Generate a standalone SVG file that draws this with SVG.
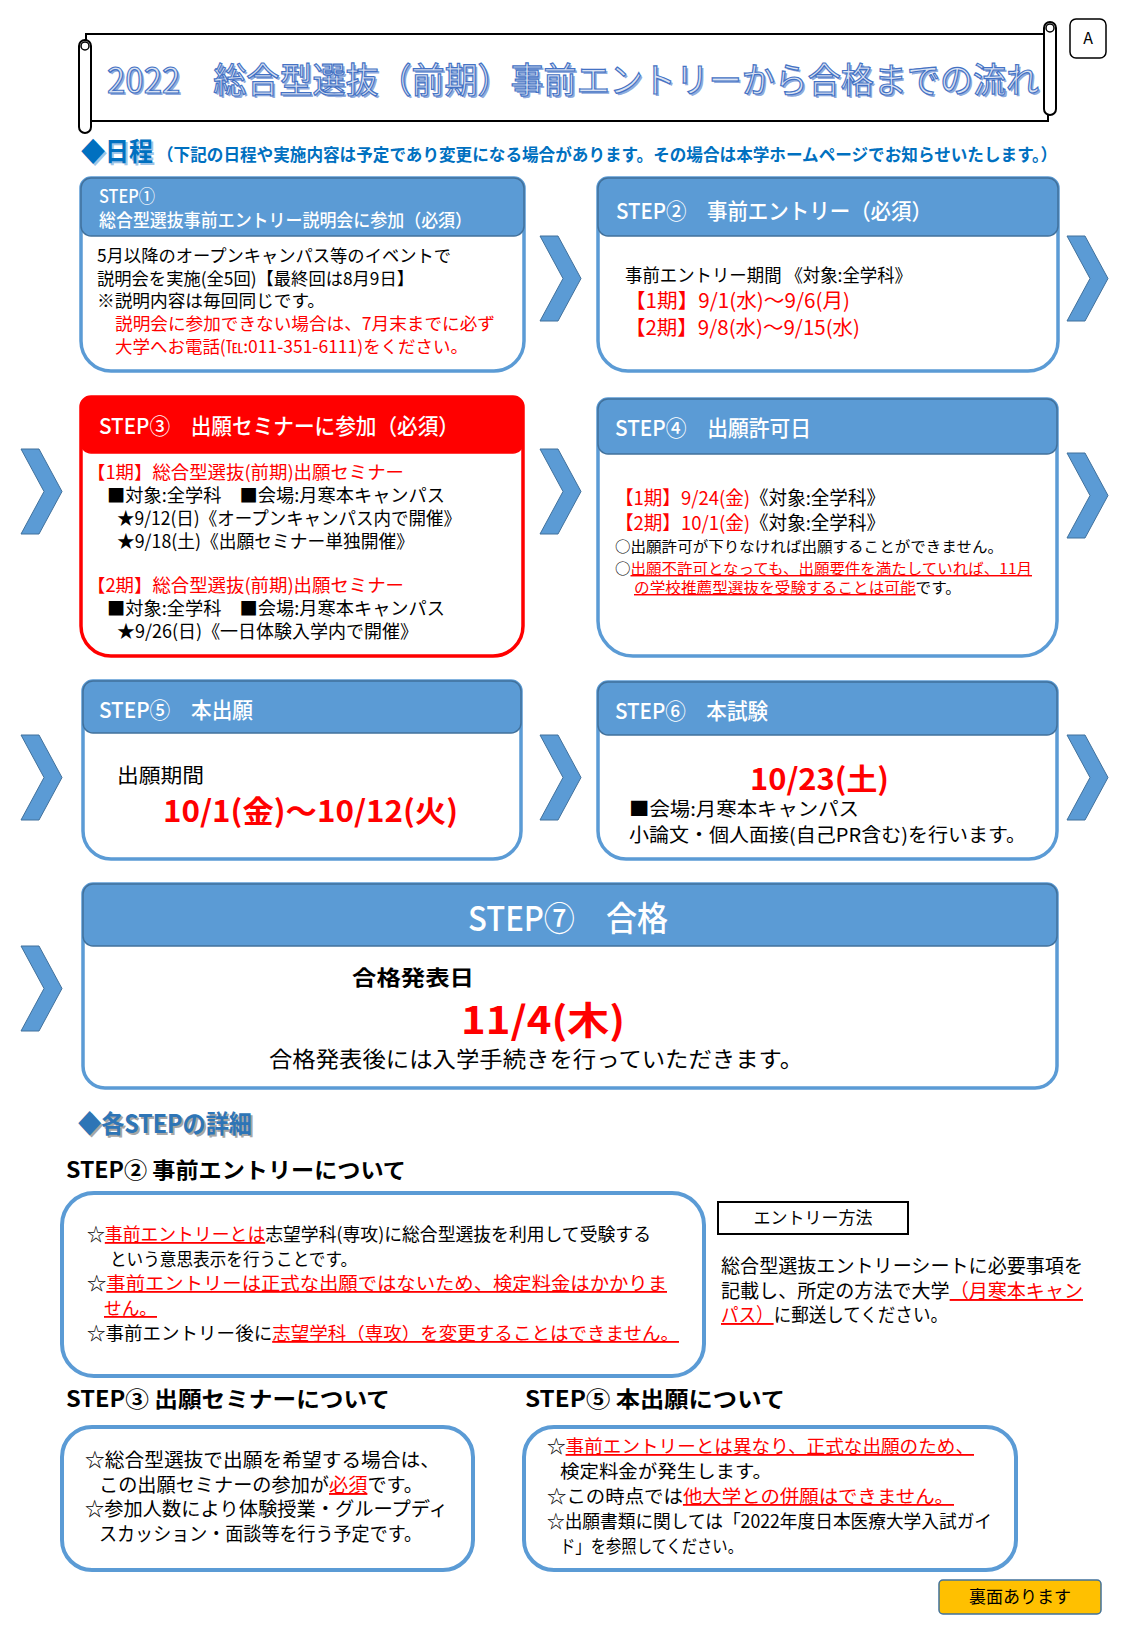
<svg xmlns="http://www.w3.org/2000/svg" width="1125" height="1625" viewBox="0 0 1125 1625">
<defs>
<style>
text{font-family:"Noto Sans CJK JP","Noto Sans",sans-serif;}
.hd{fill:#fff;font-weight:500;}
.bk{fill:#000;}
.rd{fill:#FF0000;}
.ul{text-decoration:underline;}
.body{fill:#fff;stroke:#5B9BD5;stroke-width:3.5;}
.bodyR{fill:#fff;stroke:#FF0000;stroke-width:3.5;}
.head{fill:#5B9BD5;stroke:#41719C;stroke-width:1.5;}
.headR{fill:#FF0000;stroke:#FF0000;stroke-width:1.5;}
.chev{fill:#5B9BD5;stroke:#41719C;stroke-width:1;}
.dbox{fill:#fff;stroke:#5B9BD5;stroke-width:4;}
</style>
<path id="chev" d="M0,0 L18,0 L41,42.5 L18,85 L0,85 L23,42.5 Z"/>
</defs>
<rect width="1125" height="1625" fill="#fff"/>

<g id="title">
<rect x="86" y="34" width="962" height="87" fill="#fff" stroke="#000" stroke-width="2"/>
<rect x="79" y="40" width="12" height="93" rx="6" fill="#fff" stroke="#000" stroke-width="2"/>
<circle cx="85" cy="46" r="4" fill="#fff" stroke="#000" stroke-width="1.5"/>
<rect x="1044" y="22" width="12" height="93" rx="6" fill="#fff" stroke="#000" stroke-width="2"/>
<circle cx="1050" cy="28" r="4" fill="#fff" stroke="#000" stroke-width="1.5"/>
<text x="109" y="95" font-size="35" fill="#8FAADC" textLength="932" lengthAdjust="spacingAndGlyphs">2022　総合型選抜（前期）事前エントリーから合格までの流れ</text>
<text x="107" y="93" font-size="35" fill="#DAE3F3" stroke="#4472C4" stroke-width="1.2" textLength="932" lengthAdjust="spacingAndGlyphs">2022　総合型選抜（前期）事前エントリーから合格までの流れ</text>
</g>

<g id="badge-a">
<rect x="1070" y="19" width="36" height="39" rx="6" fill="#fff" stroke="#000" stroke-width="1.5"/>
<text x="1088" y="44" font-size="16" text-anchor="middle" class="bk" font-family="Liberation Sans">A</text>
</g>

<g id="schedule-heading">
<text x="83" y="163" font-size="26" font-weight="bold" fill="#9DC3E6" textLength="72" lengthAdjust="spacingAndGlyphs">◆日程</text>
<text x="81" y="161" font-size="26" font-weight="bold" fill="#0070C0" textLength="72" lengthAdjust="spacingAndGlyphs">◆日程</text>
<text x="157" y="161" font-size="17" font-weight="bold" fill="#0070C0" textLength="900" lengthAdjust="spacingAndGlyphs">（下記の日程や実施内容は予定であり変更になる場合があります。その場合は本学ホームページでお知らせいたします。）</text>
</g>

<g id="connectors">
<use href="#chev" class="chev" transform="translate(540,236)"/>
<use href="#chev" class="chev" transform="translate(1067,236)"/>
<use href="#chev" class="chev" transform="translate(21,449)"/>
<use href="#chev" class="chev" transform="translate(540,449)"/>
<use href="#chev" class="chev" transform="translate(1067,453)"/>
<use href="#chev" class="chev" transform="translate(21,735)"/>
<use href="#chev" class="chev" transform="translate(540,735)"/>
<use href="#chev" class="chev" transform="translate(1067,735)"/>
<use href="#chev" class="chev" transform="translate(21,946)"/>
</g>

<g id="step1">
<path class="body" d="M91,178 H514 A10,10 0 0 1 524,188 V341 A30,30 0 0 1 494,371 H111 A30,30 0 0 1 81,341 V188 A10,10 0 0 1 91,178 Z"/>
<rect class="head" x="81" y="178" width="443" height="58" rx="10"/>
<text class="hd" x="99" y="203" font-size="18" textLength="56" lengthAdjust="spacingAndGlyphs">STEP①</text>
<text class="hd" x="99" y="227" font-size="18" textLength="373" lengthAdjust="spacingAndGlyphs">総合型選抜事前エントリー説明会に参加（必須）</text>
<text class="bk" x="97" y="262" font-size="17.5" textLength="354" lengthAdjust="spacingAndGlyphs">5月以降のオープンキャンパス等のイベントで</text>
<text class="bk" x="97" y="285" font-size="17.5" textLength="317" lengthAdjust="spacingAndGlyphs">説明会を実施(全5回)【最終回は8月9日】</text>
<text class="bk" x="97" y="307" font-size="17.5" textLength="228" lengthAdjust="spacingAndGlyphs">※説明内容は毎回同じです。</text>
<text class="rd" x="115" y="330" font-size="17.5" textLength="380" lengthAdjust="spacingAndGlyphs">説明会に参加できない場合は、7月末までに必ず</text>
<text class="rd" x="115" y="353" font-size="17.5" textLength="353" lengthAdjust="spacingAndGlyphs">大学へお電話(℡:011-351-6111)をください。</text>
</g>

<g id="step2">
<path class="body" d="M608,178 H1048 A10,10 0 0 1 1058,188 V341 A30,30 0 0 1 1028,371 H628 A30,30 0 0 1 598,341 V188 A10,10 0 0 1 608,178 Z"/>
<rect class="head" x="598" y="178" width="460" height="58" rx="10"/>
<text class="hd" x="616" y="219" font-size="22" textLength="316" lengthAdjust="spacingAndGlyphs">STEP②　事前エントリー（必須）</text>
<text class="bk" x="625" y="282" font-size="18" textLength="287" lengthAdjust="spacingAndGlyphs">事前エントリー期間 《対象:全学科》</text>
<text class="rd" x="625" y="308" font-size="20" textLength="225" lengthAdjust="spacingAndGlyphs">【1期】9/1(水)～9/6(月)</text>
<text class="rd" x="625" y="335" font-size="20" textLength="235" lengthAdjust="spacingAndGlyphs">【2期】9/8(水)～9/15(水)</text>
</g>

<g id="step3">
<path class="bodyR" d="M91,397 H513 A10,10 0 0 1 523,407 V626 A30,30 0 0 1 493,656 H111 A30,30 0 0 1 81,626 V407 A10,10 0 0 1 91,397 Z"/>
<rect class="headR" x="81" y="397" width="442" height="56" rx="10"/>
<text class="hd" x="99" y="434" font-size="22" textLength="360" lengthAdjust="spacingAndGlyphs">STEP③　出願セミナーに参加（必須）</text>
<text class="rd" x="87" y="479" font-size="18" textLength="317" lengthAdjust="spacingAndGlyphs">【1期】総合型選抜(前期)出願セミナー</text>
<text class="bk" x="107" y="502" font-size="18" textLength="338" lengthAdjust="spacingAndGlyphs">■対象:全学科　■会場:月寒本キャンパス</text>
<text class="bk" x="117" y="525" font-size="18" textLength="344" lengthAdjust="spacingAndGlyphs">★9/12(日)《オープンキャンパス内で開催》</text>
<text class="bk" x="117" y="548" font-size="18" textLength="297" lengthAdjust="spacingAndGlyphs">★9/18(土)《出願セミナー単独開催》</text>
<text class="rd" x="87" y="592" font-size="18" textLength="317" lengthAdjust="spacingAndGlyphs">【2期】総合型選抜(前期)出願セミナー</text>
<text class="bk" x="107" y="615" font-size="18" textLength="338" lengthAdjust="spacingAndGlyphs">■対象:全学科　■会場:月寒本キャンパス</text>
<text class="bk" x="117" y="638" font-size="18" textLength="301" lengthAdjust="spacingAndGlyphs">★9/26(日)《一日体験入学内で開催》</text>
</g>

<g id="step4">
<path class="body" d="M608,399 H1047 A10,10 0 0 1 1057,409 V621 A35,35 0 0 1 1022,656 H633 A35,35 0 0 1 598,621 V409 A10,10 0 0 1 608,399 Z"/>
<rect class="head" x="598" y="399" width="459" height="55" rx="10"/>
<text class="hd" x="615" y="436" font-size="22" textLength="196" lengthAdjust="spacingAndGlyphs">STEP④　出願許可日</text>
<text x="615" y="505" font-size="19" textLength="270" lengthAdjust="spacingAndGlyphs"><tspan class="rd">【1期】9/24(金)</tspan><tspan class="bk">《対象:全学科》</tspan></text>
<text x="615" y="530" font-size="19" textLength="270" lengthAdjust="spacingAndGlyphs"><tspan class="rd">【2期】10/1(金)</tspan><tspan class="bk">《対象:全学科》</tspan></text>
<text class="bk" x="615" y="552" font-size="14.5" textLength="388" lengthAdjust="spacingAndGlyphs">○出願許可が下りなければ出願することができません。</text>
<text x="615" y="574" font-size="14.5" textLength="417" lengthAdjust="spacingAndGlyphs"><tspan class="bk">○</tspan><tspan class="rd ul">出願不許可となっても、出願要件を満たしていれば、11月</tspan></text>
<text x="634" y="593" font-size="14.5" textLength="327" lengthAdjust="spacingAndGlyphs"><tspan class="rd ul">の学校推薦型選抜を受験することは可能</tspan><tspan class="bk">です。</tspan></text>
</g>

<g id="step5">
<path class="body" d="M93,681 H511 A10,10 0 0 1 521,691 V831 A28,28 0 0 1 493,859 H111 A28,28 0 0 1 83,831 V691 A10,10 0 0 1 93,681 Z"/>
<rect class="head" x="83" y="681" width="438" height="52" rx="10"/>
<text class="hd" x="99" y="718" font-size="22" textLength="154" lengthAdjust="spacingAndGlyphs">STEP⑤　本出願</text>
<text class="bk" x="117" y="783" font-size="20" textLength="87" lengthAdjust="spacingAndGlyphs">出願期間</text>
<text class="rd" x="163" y="822" font-size="30" font-weight="bold" textLength="295" lengthAdjust="spacingAndGlyphs">10/1(金)～10/12(火)</text>
</g>

<g id="step6">
<path class="body" d="M608,682 H1047 A10,10 0 0 1 1057,692 V831 A28,28 0 0 1 1029,859 H626 A28,28 0 0 1 598,831 V692 A10,10 0 0 1 608,682 Z"/>
<rect class="head" x="598" y="682" width="459" height="53" rx="10"/>
<text class="hd" x="615" y="719" font-size="22" textLength="153" lengthAdjust="spacingAndGlyphs">STEP⑥　本試験</text>
<text class="rd" x="750" y="790" font-size="30" font-weight="bold" textLength="139" lengthAdjust="spacingAndGlyphs">10/23(土)</text>
<text class="bk" x="629" y="816" font-size="19" textLength="230" lengthAdjust="spacingAndGlyphs">■会場:月寒本キャンパス</text>
<text class="bk" x="629" y="842" font-size="19" textLength="397" lengthAdjust="spacingAndGlyphs">小論文・個人面接(自己PR含む)を行います。</text>
</g>

<g id="step7">
<path class="body" d="M93,884 H1047 A10,10 0 0 1 1057,894 V1066 A22,22 0 0 1 1035,1088 H105 A22,22 0 0 1 83,1066 V894 A10,10 0 0 1 93,884 Z"/>
<rect class="head" x="83" y="884" width="974" height="62" rx="10"/>
<text class="hd" x="468" y="931" font-size="34" textLength="200" lengthAdjust="spacingAndGlyphs">STEP⑦　合格</text>
<text class="bk" x="352" y="985" font-size="21" font-weight="bold" textLength="122" lengthAdjust="spacingAndGlyphs">合格発表日</text>
<text class="rd" x="461" y="1034" font-size="38" font-weight="bold" textLength="164" lengthAdjust="spacingAndGlyphs">11/4(木)</text>
<text class="bk" x="269" y="1067" font-size="22" textLength="534" lengthAdjust="spacingAndGlyphs">合格発表後には入学手続きを行っていただきます。</text>
</g>

<g id="details-heading">
<text x="80" y="1135" font-size="25" font-weight="bold" fill="#A6A6A6" textLength="174" lengthAdjust="spacingAndGlyphs">◆各STEPの詳細</text>
<text x="78" y="1133" font-size="25" font-weight="bold" fill="#2E75B6" textLength="174" lengthAdjust="spacingAndGlyphs">◆各STEPの詳細</text>
</g>

<g id="detail-step2">
<text class="bk" x="66" y="1178" font-size="22" font-weight="bold" textLength="340" lengthAdjust="spacingAndGlyphs">STEP②  事前エントリーについて</text>
<rect class="dbox" x="62" y="1193" width="642" height="183" rx="32"/>
<text x="87" y="1241" font-size="18" textLength="564" lengthAdjust="spacingAndGlyphs"><tspan class="bk">☆</tspan><tspan class="rd ul">事前エントリーとは</tspan><tspan class="bk">志望学科(専攻)に総合型選抜を利用して受験する</tspan></text>
<text class="bk" x="110" y="1266" font-size="18" textLength="247" lengthAdjust="spacingAndGlyphs">という意思表示を行うことです。</text>
<text x="87" y="1290" font-size="18" textLength="580" lengthAdjust="spacingAndGlyphs"><tspan class="bk">☆</tspan><tspan class="rd ul">事前エントリーは正式な出願ではないため、検定料金はかかりま</tspan></text>
<text class="rd ul" x="104" y="1315" font-size="18" textLength="53" lengthAdjust="spacingAndGlyphs">せん。</text>
<text x="87" y="1340" font-size="18" textLength="592" lengthAdjust="spacingAndGlyphs"><tspan class="bk">☆事前エントリー後に</tspan><tspan class="rd ul">志望学科（専攻）を変更することはできません。</tspan></text>
</g>

<g id="entry-method">
<rect x="718" y="1202" width="190" height="32" fill="#fff" stroke="#000" stroke-width="2"/>
<text class="bk" x="813" y="1224" font-size="17" text-anchor="middle">エントリー方法</text>
<text class="bk" x="721" y="1273" font-size="19" textLength="362" lengthAdjust="spacingAndGlyphs">総合型選抜エントリーシートに必要事項を</text>
<text x="721" y="1298" font-size="19" textLength="362" lengthAdjust="spacingAndGlyphs"><tspan class="bk">記載し、所定の方法で大学</tspan><tspan class="rd ul">（月寒本キャン</tspan></text>
<text x="721" y="1322" font-size="19" textLength="227" lengthAdjust="spacingAndGlyphs"><tspan class="rd ul">パス）</tspan><tspan class="bk">に郵送してください。</tspan></text>
</g>

<g id="detail-step3">
<text class="bk" x="66" y="1407" font-size="22" font-weight="bold" textLength="324" lengthAdjust="spacingAndGlyphs">STEP③  出願セミナーについて</text>
<rect class="dbox" x="62" y="1427" width="411" height="143" rx="30"/>
<text class="bk" x="85" y="1467" font-size="19" textLength="355" lengthAdjust="spacingAndGlyphs">☆総合型選抜で出願を希望する場合は、</text>
<text x="99" y="1492" font-size="19" textLength="324" lengthAdjust="spacingAndGlyphs"><tspan class="bk">この出願セミナーの参加が</tspan><tspan class="rd ul">必須</tspan><tspan class="bk">です。</tspan></text>
<text class="bk" x="85" y="1516" font-size="19" textLength="363" lengthAdjust="spacingAndGlyphs">☆参加人数により体験授業・グループディ</text>
<text class="bk" x="99" y="1541" font-size="19" textLength="323" lengthAdjust="spacingAndGlyphs">スカッション・面談等を行う予定です。</text>
</g>

<g id="detail-step5">
<text class="bk" x="525" y="1407" font-size="22" font-weight="bold" textLength="260" lengthAdjust="spacingAndGlyphs">STEP⑤  本出願について</text>
<rect class="dbox" x="524" y="1427" width="492" height="143" rx="30"/>
<text x="547" y="1453" font-size="18" textLength="427" lengthAdjust="spacingAndGlyphs"><tspan class="bk">☆</tspan><tspan class="rd ul">事前エントリーとは異なり、正式な出願のため、</tspan></text>
<text class="bk" x="560" y="1478" font-size="18" textLength="212" lengthAdjust="spacingAndGlyphs">検定料金が発生します。</text>
<text x="547" y="1503" font-size="18" textLength="407" lengthAdjust="spacingAndGlyphs"><tspan class="bk">☆この時点では</tspan><tspan class="rd ul">他大学との併願はできません。</tspan></text>
<text class="bk" x="547" y="1528" font-size="18" textLength="445" lengthAdjust="spacingAndGlyphs">☆出願書類に関しては「2022年度日本医療大学入試ガイ</text>
<text class="bk" x="560" y="1553" font-size="18" textLength="183" lengthAdjust="spacingAndGlyphs">ド」を参照してください。</text>
</g>

<g id="back-note">
<rect x="939" y="1580" width="162" height="34" rx="4" fill="#FFC000" stroke="#41719C" stroke-width="1.5"/>
<text class="bk" x="1020" y="1603" font-size="17" text-anchor="middle">裏面あります</text>
</g>
</svg>
